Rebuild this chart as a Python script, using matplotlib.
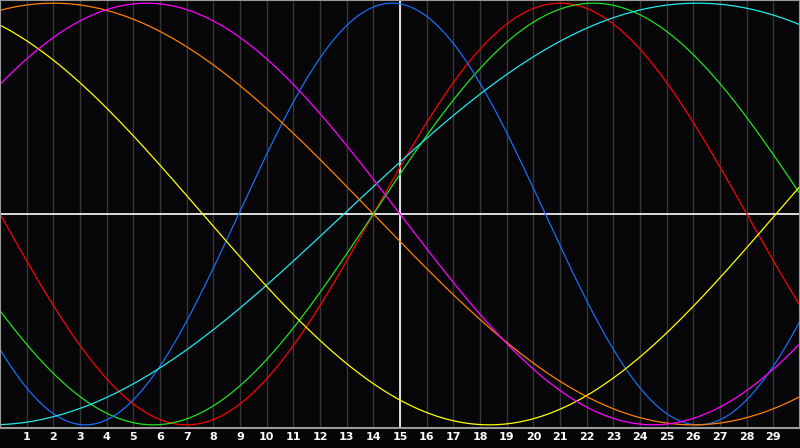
import numpy as np
import matplotlib
matplotlib.use('Agg')
import matplotlib.pyplot as plt

# cycle colours, lengths (days) and day of the peak
colors = ['#ff0000', '#22e022', '#1a6cf5', '#22e8e8', '#ffff00', '#ff8000', '#ff00ff']
periods = [28, 33, 23, 53, 43, 48, 38]
peak_days = [21.0, 22.25, 14.7, 26.15, -3.15, 2.0, 5.5]

day_labels = [str(d) for d in range(1, 30)]
center_day = 15

fig = plt.figure(figsize=(8, 4.48), dpi=100, facecolor='#050507')
ax = fig.add_axes([0, 20 / 448, 1, 428 / 448])
ax.set_facecolor('#060609')

days = np.linspace(0, 30, 601)
for col, per, pk in zip(colors, periods, peak_days):
    ax.plot(days, np.cos(2 * np.pi * (days - pk) / per), color=col, lw=0.9)

ax.set_xlim(0, 30)
ax.set_ylim(-1.015, 1.015)

ax.set_xticks(range(1, 30))
ax.set_xticklabels(day_labels, color='white', fontsize=8, fontweight='heavy',
                   family='DejaVu Sans')
ax.tick_params(axis='x', length=0, pad=3)
ax.set_yticks([])
ax.grid(axis='x', color='#363636', lw=1)
ax.set_axisbelow(True)

ax.axvline(center_day, color='white', lw=1.2, zorder=1.5)
ax.axhline(0, color='white', lw=1.2, zorder=1.5)

for s in ax.spines.values():
    s.set_color('#9a9a9a')
    s.set_linewidth(1.5)

fig.savefig('out.png', dpi=100, facecolor=fig.get_facecolor())
